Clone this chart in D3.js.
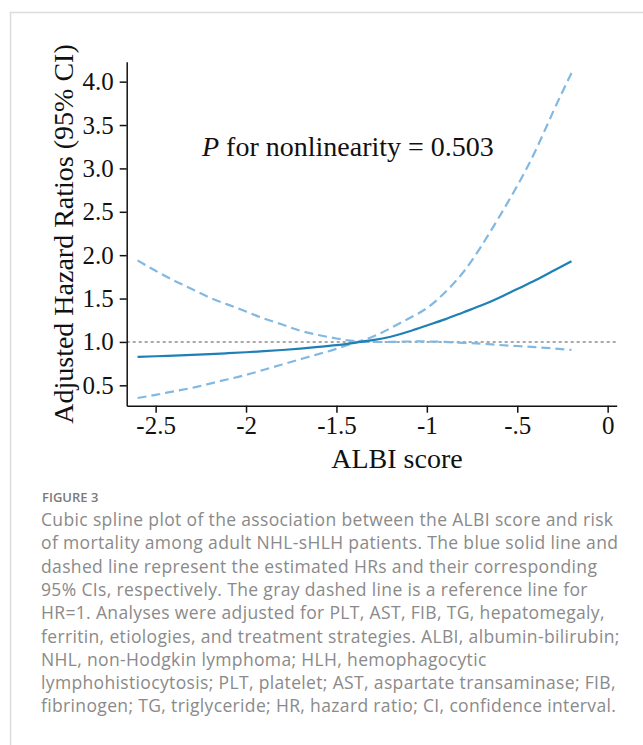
<!DOCTYPE html>
<html>
<head>
<meta charset="utf-8">
<script src="https://cdn.jsdelivr.net/npm/d3@7"></script>
<style>
  html, body { margin: 0; padding: 0; background: #fff; }
  svg { display: block; }
</style>
</head>
<body>
<svg id="chart" width="643" height="745"></svg>
<script>
// ALBI score grid (x) and the spline estimates read at each point
const albi = [-2.6, -2.5, -2.4, -2.3, -2.2, -2.1, -2.0, -1.9, -1.8, -1.7, -1.6, -1.5, -1.4,
              -1.3, -1.2, -1.1, -1.0, -0.9, -0.8, -0.7, -0.6, -0.5, -0.4, -0.3, -0.2];
// adjusted hazard ratio (solid line)
const hr = [0.828, 0.835, 0.843, 0.851, 0.860, 0.870, 0.881, 0.893, 0.907, 0.923, 0.942, 0.963, 0.990,
            1.020, 1.060, 1.120, 1.190, 1.260, 1.340, 1.420, 1.510, 1.610, 1.710, 1.820, 1.930];
// confidence bound that is high on the left and flat on the right
const ciA = [1.94, 1.82, 1.71, 1.61, 1.51, 1.43, 1.35, 1.27, 1.20, 1.13, 1.08, 1.04, 1.01,
             1.00, 1.00, 1.005, 1.005, 1.00, 0.99, 0.98, 0.965, 0.953, 0.94, 0.925, 0.908];
// confidence bound that is low on the left and steep on the right
const ciB = [0.354, 0.39, 0.43, 0.47, 0.52, 0.57, 0.62, 0.68, 0.74, 0.80, 0.86, 0.92, 0.99,
             1.06, 1.16, 1.27, 1.39, 1.57, 1.80, 2.10, 2.44, 2.80, 3.20, 3.66, 4.10];

const yTicks = [0.5, 1.0, 1.5, 2.0, 2.5, 3.0, 3.5, 4.0];
const xTicks = [-2.5, -2, -1.5, -1, -0.5, 0];
const xTickLabels = ["-2.5", "-2", "-1.5", "-1", "-.5", "0"];
const refHR = 1;

const yTitle = "Adjusted Hazard Ratios (95% CI)";
const xTitle = "ALBI score";
const figLabel = "FIGURE 3";
const captionLines = [
  "Cubic spline plot of the association between the ALBI score and risk",
  "of mortality among adult NHL-sHLH patients. The blue solid line and",
  "dashed line represent the estimated HRs and their corresponding",
  "95% CIs, respectively. The gray dashed line is a reference line for",
  "HR=1. Analyses were adjusted for PLT, AST, FIB, TG, hepatomegaly,",
  "ferritin, etiologies, and treatment strategies. ALBI, albumin-bilirubin;",
  "NHL, non-Hodgkin lymphoma; HLH, hemophagocytic",
  "lymphohistiocytosis; PLT, platelet; AST, aspartate transaminase; FIB,",
  "fibrinogen; TG, triglyceride; HR, hazard ratio; CI, confidence interval."
];

const svg = d3.select("#chart");
const serif = "'Liberation Serif', 'Times New Roman', serif";

// card frame (top and left rules)
svg.append("path")
  .attr("d", "M10.5,745 L10.5,12.5 L643,12.5")
  .attr("fill", "none")
  .attr("stroke", "#dcdcdc")
  .attr("stroke-width", 1.5);

const x = d3.scaleLinear().domain([-2.66, 0.05]).range([126.7, 616.7]);
const y = d3.scaleLinear().domain([0.265, 4.23]).range([405.7, 61.7]);

const g = svg.append("g");

// reference line at HR = 1
g.append("line")
  .attr("x1", x.range()[0]).attr("x2", x.range()[1])
  .attr("y1", y(refHR)).attr("y2", y(refHR))
  .attr("stroke", "#8c8c8c")
  .attr("stroke-width", 1.5)
  .attr("stroke-dasharray", "3,3");

const line = d3.line().curve(d3.curveNatural).x(d => x(d[0])).y(d => y(d[1]));

[ciA, ciB].forEach(series => {
  g.append("path")
    .datum(albi.map((v, i) => [v, series[i]]))
    .attr("d", line)
    .attr("fill", "none")
    .attr("stroke", "#82b9e3")
    .attr("stroke-width", 2.2)
    .attr("stroke-dasharray", "9,5");
});

g.append("path")
  .datum(albi.map((v, i) => [v, hr[i]]))
  .attr("d", line)
  .attr("fill", "none")
  .attr("stroke", "#1f80b7")
  .attr("stroke-width", 2.2);

// axes
const yAxis = d3.axisLeft(y).tickValues(yTicks).tickFormat(d3.format(".1f"))
  .tickSize(7).tickSizeOuter(0).tickPadding(6);
const xAxis = d3.axisBottom(x).tickValues(xTicks).tickFormat((d, i) => xTickLabels[i])
  .tickSize(7).tickSizeOuter(0).tickPadding(4);

const ya = g.append("g").attr("transform", `translate(${x.range()[0]},0)`).call(yAxis);
const xa = g.append("g").attr("transform", `translate(0,${y.range()[0]})`).call(xAxis);

[ya, xa].forEach(a => {
  a.select(".domain").attr("stroke", "#111").attr("stroke-width", 1.5);
  a.selectAll(".tick line").attr("stroke", "#111").attr("stroke-width", 1.5);
  a.selectAll(".tick text").attr("fill", "#111").style("font-family", serif).style("font-size", "25px");
});

// axis titles
svg.append("text")
  .attr("transform", `translate(73,234) rotate(-90)`)
  .attr("text-anchor", "middle")
  .style("font-family", serif).style("font-size", "28px").attr("fill", "#111")
  .text(yTitle);

svg.append("text")
  .attr("x", 397).attr("y", 468)
  .attr("text-anchor", "middle")
  .style("font-family", serif).style("font-size", "28px").attr("fill", "#111")
  .text(xTitle);

// nonlinearity annotation
const ann = svg.append("text")
  .attr("x", 202).attr("y", 156)
  .style("font-family", serif).style("font-size", "28px").attr("fill", "#111");
ann.append("tspan").style("font-style", "italic").text("P");
ann.append("tspan").text(" for nonlinearity = 0.503");

// figure caption
svg.append("text")
  .attr("x", 42).attr("y", 502)
  .style("font-family", "'Open Sans', sans-serif").style("font-size", "13px")
  .style("font-weight", 600).attr("fill", "#7a7a7a")
  .text(figLabel);

const cap = svg.append("text")
  .style("font-family", "'Open Sans', sans-serif").style("font-size", "17.5px")
  .style("letter-spacing", "0.35px")
  .attr("fill", "#8a8a8a");
captionLines.forEach((t, i) => {
  cap.append("tspan").attr("x", 41).attr("y", 526 + i * 23.3).text(t);
});
</script>
</body>
</html>
